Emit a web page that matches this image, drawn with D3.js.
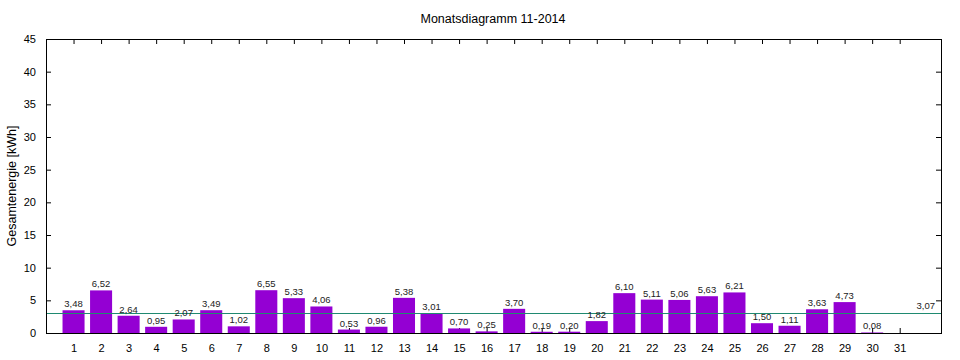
<!DOCTYPE html>
<html><head><meta charset="utf-8">
<script src="https://cdn.jsdelivr.net/npm/d3@7"></script>
<style>body{margin:0;background:#fff}svg{display:block}</style>
</head><body>
<svg id="c" width="960" height="360"></svg>
<script>
const days = d3.range(1, 32);
const values = [3.48,6.52,2.64,0.95,2.07,3.49,1.02,6.55,5.33,4.06,0.53,0.96,5.38,3.01,0.70,0.25,3.70,0.19,0.20,1.82,6.10,5.11,5.06,5.63,6.21,1.50,1.11,3.63,4.73,0.08,null];
const average = 3.07;
const yTicks = [0,5,10,15,20,25,30,35,40,45];
const title = "Monatsdiagramm 11-2014";
const yLabel = "Gesamtenergie [kWh]";

const svg = d3.select("#c");
const L = 46, R = 941, T = 39, B = 333;
const x = d3.scaleLinear().domain([0, 32.5]).range([L, R]);
const y = d3.scaleLinear().domain([0, 45]).range([B, T]);
const fmt = v => v.toFixed(2).replace(".", ",");
const bw = 0.8 * (x(1) - x(0));
const axFont = "Liberation Sans, Arial, sans-serif";

const data = days.map((d, i) => ({d, v: values[i]})).filter(o => o.v != null);

// axes (drawn behind bars)
const yAx = svg.append("g").attr("transform", `translate(${L},0)`)
  .call(d3.axisLeft(y).tickValues(yTicks).tickSize(-5).tickPadding(10).tickFormat(d3.format("d")));
const yAxR = svg.append("g").attr("transform", `translate(${R},0)`)
  .call(d3.axisRight(y).tickValues(yTicks).tickSize(-5).tickFormat(""));
const xAx = svg.append("g").attr("transform", `translate(0,${B})`)
  .call(d3.axisBottom(x).tickValues(days).tickSize(-5).tickPadding(11).tickFormat(d3.format("d")));
const xAxT = svg.append("g").attr("transform", `translate(0,${T})`)
  .call(d3.axisTop(x).tickValues(days).tickSize(-5).tickFormat(""));
[yAx, yAxR, xAx, xAxT].forEach(g => {
  g.select(".domain").remove();
  g.selectAll("line").attr("stroke", "#000");
  g.selectAll("text").attr("font-family", axFont).attr("font-size", 11).attr("fill", "#000");
});

svg.append("g").selectAll("rect").data(data).join("rect")
  .attr("x", o => x(o.d) - bw/2).attr("width", bw)
  .attr("y", o => y(o.v)).attr("height", o => y(0) - y(o.v))
  .attr("fill", "#9400d3");

svg.append("line").attr("x1", L).attr("x2", R)
  .attr("y1", Math.round(y(average)) + 0.5).attr("y2", Math.round(y(average)) + 0.5)
  .attr("stroke", "#1f8a70").attr("stroke-width", 1);

svg.append("g").selectAll("text").data(data).join("text")
  .attr("x", o => x(o.d)).attr("y", o => y(o.v) - 3)
  .attr("text-anchor", "middle").attr("font-family", axFont)
  .attr("font-size", 9.5).attr("fill", "#222").text(o => fmt(o.v));

svg.append("text").attr("x", R - 6).attr("y", y(average) - 4)
  .attr("text-anchor", "end").attr("font-family", axFont)
  .attr("font-size", 9.5).attr("fill", "#222").text(fmt(average));

svg.append("rect").attr("x", L + 0.5).attr("y", T + 0.5).attr("width", R - L).attr("height", B - T)
  .attr("fill", "none").attr("stroke", "#000").attr("stroke-width", 1);

svg.append("text").attr("x", 493).attr("y", 23).attr("text-anchor", "middle")
  .attr("font-family", axFont).attr("font-size", 12.5).attr("fill", "#000").text(title);
svg.append("text").attr("transform", `translate(16,${(T+B)/2}) rotate(-90)`)
  .attr("text-anchor", "middle").attr("font-family", axFont).attr("font-size", 12.5).attr("fill", "#000").text(yLabel);
</script>
</body></html>
